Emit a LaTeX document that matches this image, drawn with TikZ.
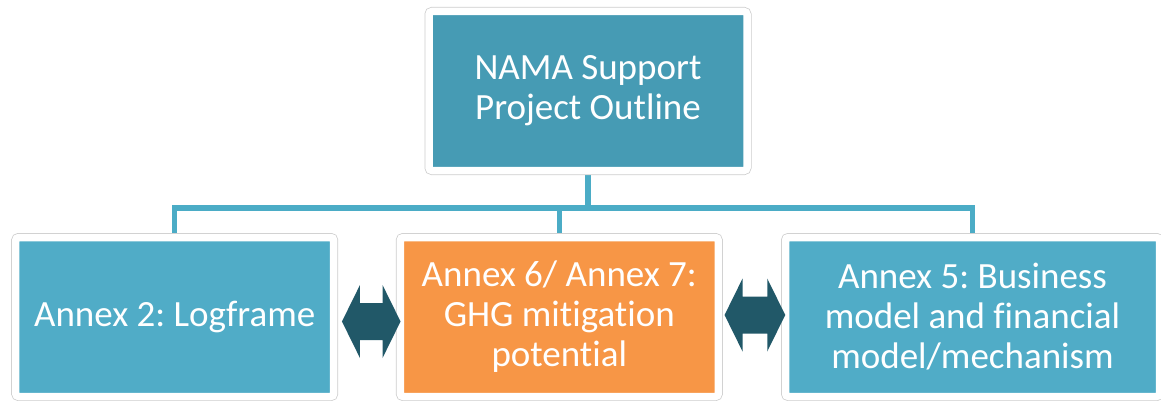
\documentclass[tikz,border=0pt]{standalone}
\usepackage{fontspec}
\setmainfont{Carlito}[Ligatures=NoCommon]
\usetikzlibrary{calc,backgrounds}
\frenchspacing

\definecolor{topteal}{RGB}{70,155,180}
\definecolor{boxteal}{RGB}{80,172,199}
\definecolor{boxorange}{RGB}{247,150,70}
\definecolor{linkblue}{RGB}{75,172,198}
\definecolor{arrowteal}{RGB}{33,88,104}

% two-headed block arrow between two boxes
\newcommand{\twoway}[5]{%
  \coordinate (tipl) at ($(#1.east)+(#3,#5)$);
  \coordinate (tipr) at ($(#2.west)+(#4,#5)$);
  \fill[arrowteal] (tipl) -- ++(18,-36.5) -- ++(0,18) -- ($(tipr)+(-18,-18.5)$) -- ++(0,-18) -- (tipr)
    -- ++(-18,36.5) -- ++(0,-18) -- ($(tipl)+(18,18.5)$) -- ++(0,18) -- cycle;}

\tikzset{
  panel/.style={rectangle, rounded corners=3pt, draw=white, line width=7.5pt,
    preaction={draw=black!20, line width=9pt},
    text=white, align=center, inner sep=0pt,
    font=\fontsize{37}{40}\selectfont},
  link/.style={draw=linkblue, line width=5.5pt}
}

\begin{document}
\begin{tikzpicture}[x=1pt,y=1pt,yscale=-1]
\useasboundingbox (0,0) rectangle (1161,401);

% Boxes
\node[panel, fill=topteal, minimum width=318, minimum height=159] (top) at (588,91) {NAMA Support\\Project Outline};
\node[panel, fill=boxteal, minimum width=318, minimum height=159] (logf) at (174.7,317) {Annex 2: Logframe};
\node[panel, fill=boxorange, minimum width=318, minimum height=159] (ghg) at (559.3,317) {Annex 6/ Annex 7:\\GHG mitigation\\potential};
\node[panel, fill=boxteal, minimum width=374, minimum height=159] (bizm) at (972.5,317) {Annex 5: Business\\model and financial\\model/mechanism};

% Tree lines
\begin{scope}[on background layer]
\coordinate (hub) at ($(top.south)+(0,33.5)$);
\draw[link] (top.south) -- (hub);
\draw[link] (logf.north) |- (hub) -| (bizm.north);
\draw[link] (ghg.north) -- (ghg.north |- hub);
\end{scope}

% Block arrows
\twoway{logf}{ghg}{4.5}{4}{4.5}
\twoway{ghg}{bizm}{2.5}{3.5}{-2}

\end{tikzpicture}
\end{document}
